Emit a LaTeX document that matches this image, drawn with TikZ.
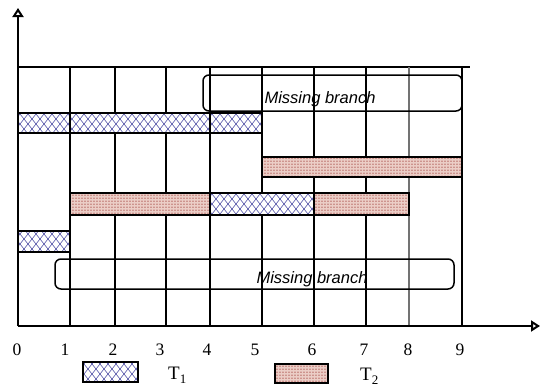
\documentclass[tikz,border=0pt]{standalone}
\usepackage{fontspec}
\setmainfont{Liberation Serif}
\newfontfamily\arialf{Liberation Sans}
\usetikzlibrary{patterns,arrows.meta}
\definecolor{tonecol}{RGB}{90,90,170}
\definecolor{ttwocol}{RGB}{150,45,40}
\definecolor{ttwobg}{RGB}{235,205,198}
\pgfdeclarepatternformonly{diamondlat}{\pgfqpoint{-1pt}{-1pt}}{\pgfqpoint{9pt}{11pt}}{\pgfqpoint{8pt}{10pt}}{%
  \pgfsetlinewidth{0.6pt}%
  \pgfpathmoveto{\pgfqpoint{0pt}{0pt}}\pgfpathlineto{\pgfqpoint{8pt}{10pt}}%
  \pgfpathmoveto{\pgfqpoint{0pt}{10pt}}\pgfpathlineto{\pgfqpoint{8pt}{0pt}}%
  \pgfusepath{stroke}}
\pgfdeclarepatternformonly{dotcols}{\pgfqpoint{0pt}{0pt}}{\pgfqpoint{3pt}{2.5pt}}{\pgfqpoint{3pt}{2.5pt}}{%
  \pgfpathrectangle{\pgfqpoint{0.8pt}{0.2pt}}{\pgfqpoint{1.1pt}{1.5pt}}\pgfusepath{fill}}
\begin{document}
\begin{tikzpicture}[x=1pt,y=-1pt,
  gridline/.style={draw=black,line width=1.5pt},
  mbox/.style={draw=black,line width=1.5pt,rounded corners=6pt},
  tonebar/.style={draw=black,line width=1.5pt,preaction={fill=white},pattern=diamondlat,pattern color=tonecol},
  ttwobar/.style={draw=black,line width=1.5pt,preaction={fill=ttwobg},pattern=dotcols,pattern color=ttwocol},
  axisline/.style={draw=black,line width=2pt,-{Triangle[open,width=11pt,length=9pt]}},
  ticklab/.style={anchor=base,inner sep=0pt,font=\fontsize{17.5}{20}\selectfont},
  mtext/.style={anchor=base,inner sep=0pt,font=\arialf\itshape\fontsize{16.5}{20}\selectfont},
  leglab/.style={anchor=base west,inner sep=0pt,font=\fontsize{19}{22}\selectfont}]
\useasboundingbox (0,0) rectangle (541,389);
% grid
\draw[gridline] (18,67) -- (470,67);
\foreach \x in {70,115,166,210,262,314,366,462}
  \draw[gridline] (\x,67) -- (\x,326);
\draw[gridline,draw=black!55] (409,67) -- (409,326);
% missing branch boxes
\draw[mbox] (203,75) rectangle (462,111);
\draw[mbox] (55,259) rectangle (454,289);
\node[mtext] (mb1) at (320,103) {Missing branch};
\node[mtext] (mb2) at (312,283) {Missing branch};
% bars
\draw[tonebar] (18,113) rectangle (70,133);
\draw[tonebar] (70,113) rectangle (210,133);
\draw[tonebar] (210,113) rectangle (262,133);
\draw[ttwobar] (262,157) rectangle (462,177);
\draw[ttwobar] (70,193) rectangle (210,215);
\draw[tonebar] (210,193) rectangle (314,215);
\draw[ttwobar] (314,193) rectangle (409,215);
\draw[tonebar] (18,231) rectangle (70,252);
% axes
\coordinate (org) at (18,326);
\coordinate (ytip) at (18,8);
\coordinate (xtip) at (540,326);
\draw[axisline] (org) -- (ytip);
\draw[axisline] (org) -- (xtip);
% tick labels
\foreach \lab/\x in {0/17,1/65,2/113,3/160,4/207,5/255,6/312,7/364,8/408,9/460}
  \node[ticklab] (t\lab) at (\x,355) {\lab};
% legend
\draw[tonebar] (83,362) rectangle (138,382);
\draw[ttwobar] (275,364) rectangle (328,383);
\node[leglab] (l1) at (168,379) {T\raisebox{-0.22em}{\fontsize{13}{13}\selectfont 1}};
\node[leglab] (l2) at (360,380) {T\raisebox{-0.22em}{\fontsize{13}{13}\selectfont 2}};
\end{tikzpicture}
\end{document}
